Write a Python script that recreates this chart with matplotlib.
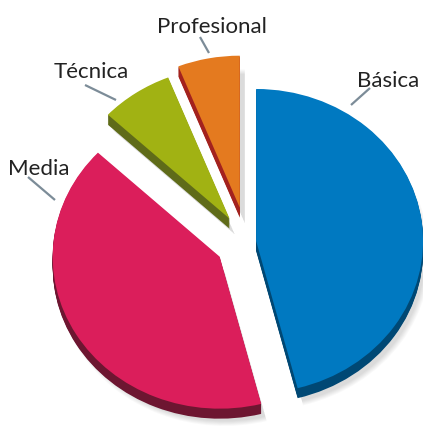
import matplotlib
matplotlib.use("Agg")
import matplotlib.pyplot as plt

# ---- data ----
labels = ["Profesional", "Técnica", "Media", "Básica"]
values = [6, 7, 41, 46]

# ---- style ----
top_colors = ["#E47A1F", "#A1B213", "#DB1E5B", "#0079C1"]
side_colors = ["#A3221E", "#5F6B19", "#6D1631", "#004874"]
explode_frac = [0.23, 0.185, 0.19, 0.055]

W, H = 423, 426
K = 0.91                      # vertical squash of the tilted pie
R = 167                       # pie radius (x pixels)
cx, cy_img = 247, 242         # pie centre in image pixels
cy = (H - cy_img) / K
depth = 11
explode = [f * R for f in explode_frac]   # matplotlib offsets in data units

fig = plt.figure(figsize=(W / 100, H / 100), dpi=100)
ax = fig.add_axes([0, 0, 1, 1])

def to_data(x, y):
    return x, (H - y) / K

# soft shadow
for i in range(6):
    ax.pie(values, explode=explode, radius=R + 2 - i, center=(cx + 5, cy - depth - 6),
           startangle=90, counterclock=True, frame=True,
           colors=["#000000"] * 4, wedgeprops=dict(alpha=0.025, lw=0))

# sides (depth)
for k in range(depth, 0, -1):
    ax.pie(values, explode=explode, radius=R, center=(cx, cy - k),
           startangle=90, counterclock=True, frame=True,
           colors=side_colors, wedgeprops=dict(lw=0))

# top faces
ax.pie(values, explode=explode, radius=R, center=(cx, cy),
       startangle=90, counterclock=True, frame=True,
       colors=top_colors, wedgeprops=dict(lw=0))

ax.set_xlim(0, W)
ax.set_ylim(0, H / K)
ax.set_aspect("auto")
ax.axis("off")

# labels and leader lines (image pixel positions)
label_pos = {
    "Profesional": (212, 33, "center"),
    "Técnica": (91, 78, "center"),
    "Básica": (388, 87, "center"),
    "Media": (39, 175, "center"),
}
leaders = {
    "Profesional": ((200, 37), (209, 53)),
    "Técnica": ((85, 85), (116, 100)),
    "Básica": ((370, 88), (351, 105)),
    "Media": ((28, 177), (55, 200)),
}
for lab in labels:
    (x0, y0), (x1, y1) = leaders[lab]
    a, b = to_data(x0, y0)
    c, d = to_data(x1, y1)
    ax.plot([a, c], [b, d], color="#7C8C98", lw=1.6, solid_capstyle="butt")
    x, y, ha = label_pos[lab]
    tx, ty = to_data(x, y)
    ax.text(tx, ty, lab, ha=ha, va="baseline", fontsize=16,
            family=["Lato", "DejaVu Sans"], color="#222222")

fig.savefig("out.png", dpi=100)
